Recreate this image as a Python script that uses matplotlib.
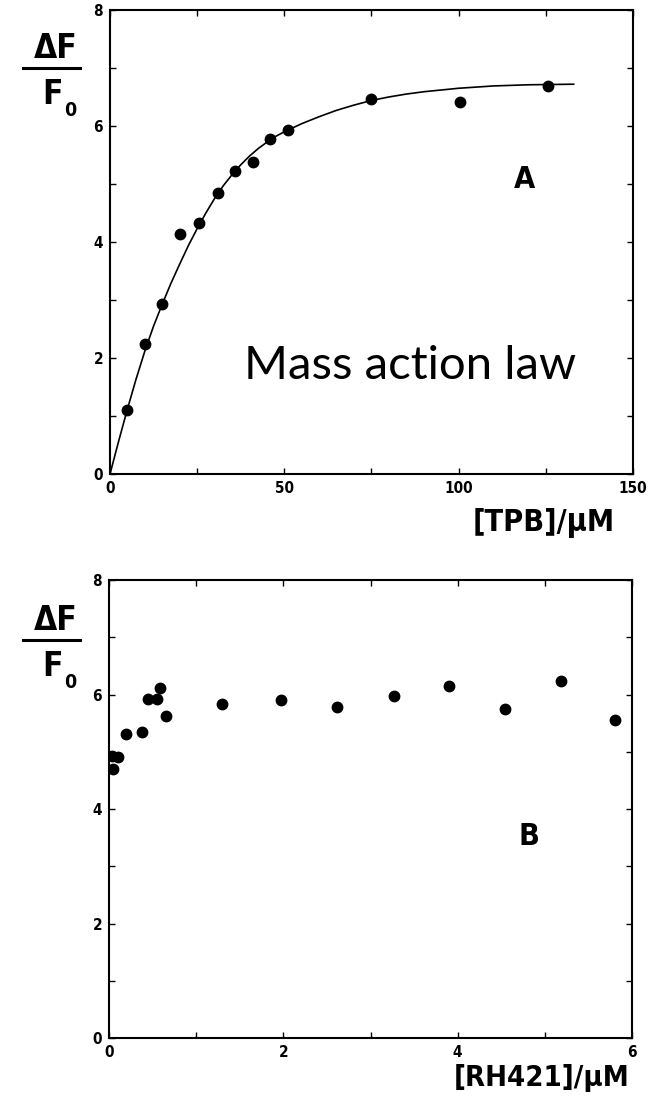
import matplotlib
matplotlib.use("Agg")
import matplotlib.pyplot as plt
from matplotlib.lines import Line2D
from matplotlib.ticker import MultipleLocator
from matplotlib import font_manager

# fluorescence change vs. TPB concentration (panel A)
tpb_conc = [5, 10, 15, 20, 25.5, 31, 36, 41, 46, 51, 75, 100.5, 125.5]
tpb_dF = [1.10, 2.25, 2.93, 4.13, 4.33, 4.85, 5.22, 5.38, 5.77, 5.93, 6.47, 6.41, 6.69]

# fitted curve for panel A
fit_conc = [0, 2.5, 5, 7.5, 10, 12.5, 15, 17.5, 20, 22.5, 25, 27.5, 30, 32.5, 35,
            37.5, 40, 42.5, 45, 47.5, 50, 55, 60, 65, 70, 75, 80, 85, 90, 95, 100,
            110, 120, 133]
fit_dF = [0, 0.57, 1.12, 1.64, 2.12, 2.55, 2.93, 3.29, 3.62, 3.94, 4.23, 4.50, 4.75,
          4.97, 5.16, 5.33, 5.48, 5.61, 5.72, 5.82, 5.90, 6.04, 6.16, 6.27, 6.36,
          6.44, 6.50, 6.55, 6.59, 6.62, 6.65, 6.69, 6.71, 6.72]

# fluorescence change vs. RH421 concentration (panel B)
rh_conc = [0.03, 0.10, 0.05, 0.19, 0.38, 0.45, 0.55, 0.58, 0.65, 1.30, 1.97,
           2.61, 3.27, 3.90, 4.54, 5.18, 5.81]
rh_dF = [4.93, 4.90, 4.70, 5.31, 5.34, 5.92, 5.92, 6.11, 5.62, 5.83, 5.90,
         5.79, 5.97, 6.15, 5.75, 6.24, 5.55]

available = {f.name for f in font_manager.fontManager.ttflist}
if "Liberation Sans Narrow" in available:
    LABEL_FONT = dict(family="Liberation Sans Narrow")
else:
    LABEL_FONT = dict(family="DejaVu Sans", stretch="condensed")

plt.rcParams["axes.linewidth"] = 1.5

fig = plt.figure(figsize=(6.5, 11.05), dpi=100)
ax_a = fig.add_axes([0.1692, 0.5710, 0.8046, 0.4200])
ax_b = fig.add_axes([0.1677, 0.0606, 0.8046, 0.4145])


def style_axes(ax, xmax, xmajor, xminor):
    ax.set_xlim(0, xmax)
    ax.set_ylim(0, 8)
    ax.xaxis.set_major_locator(MultipleLocator(xmajor))
    ax.xaxis.set_minor_locator(MultipleLocator(xminor))
    ax.yaxis.set_major_locator(MultipleLocator(2))
    ax.yaxis.set_minor_locator(MultipleLocator(1))
    ax.tick_params(which="both", direction="in", top=True, right=True,
                   length=4, width=1.0, pad=5)
    ax.tick_params(which="major", labelsize=11)
    for lbl in ax.get_xticklabels() + ax.get_yticklabels():
        lbl.set(**LABEL_FONT)
        lbl.set_fontweight("bold")


# panel A
ax_a.plot(fit_conc, fit_dF, color="black", lw=1.2)
ax_a.plot(tpb_conc, tpb_dF, "o", color="black", ms=7.5, mec="black")
style_axes(ax_a, 150, 50, 25)
ax_a.text(0.792, 0.635, "A", transform=ax_a.transAxes, fontsize=22,
          ha="center", va="center", fontweight="bold", **LABEL_FONT)
ax_a.text(0.573, 0.233, "Mass action law", transform=ax_a.transAxes,
          fontsize=34, family="Lato", ha="center", va="center")

# panel B
ax_b.plot(rh_conc, rh_dF, "o", color="black", ms=7.5, mec="black")
style_axes(ax_b, 6, 2, 1)
ax_b.text(0.802, 0.44, "B", transform=ax_b.transAxes, fontsize=22,
          ha="center", va="center", fontweight="bold", **LABEL_FONT)

# axis titles
fig.text(615 / 650, 1 - 523 / 1105, "[TPB]/\u03bcM", fontsize=22, ha="right",
         va="center", fontweight="bold", **LABEL_FONT)
fig.text(630 / 650, 1 - 1078 / 1105, "[RH421]/\u03bcM", fontsize=21, ha="right",
         va="center", fontweight="bold", **LABEL_FONT)

# dF/F0 fraction on each panel
for top in (49, 621):
    fig.text(56 / 650, 1 - top / 1105, "\u0394F", fontsize=24, ha="center",
             va="center", fontweight="bold", **LABEL_FONT)
    fig.add_artist(Line2D([23 / 650, 80 / 650],
                          [1 - (top + 19) / 1105, 1 - (top + 19) / 1105],
                          transform=fig.transFigure, color="black", lw=2.2))
    fig.text(53 / 650, 1 - (top + 45) / 1105, "F", fontsize=24, ha="center",
             va="center", fontweight="bold", **LABEL_FONT)
    fig.text(70 / 650, 1 - (top + 62) / 1105, "0", fontsize=14, ha="center",
             va="center", fontweight="bold", **LABEL_FONT)

fig.savefig("out.png", dpi=100)
